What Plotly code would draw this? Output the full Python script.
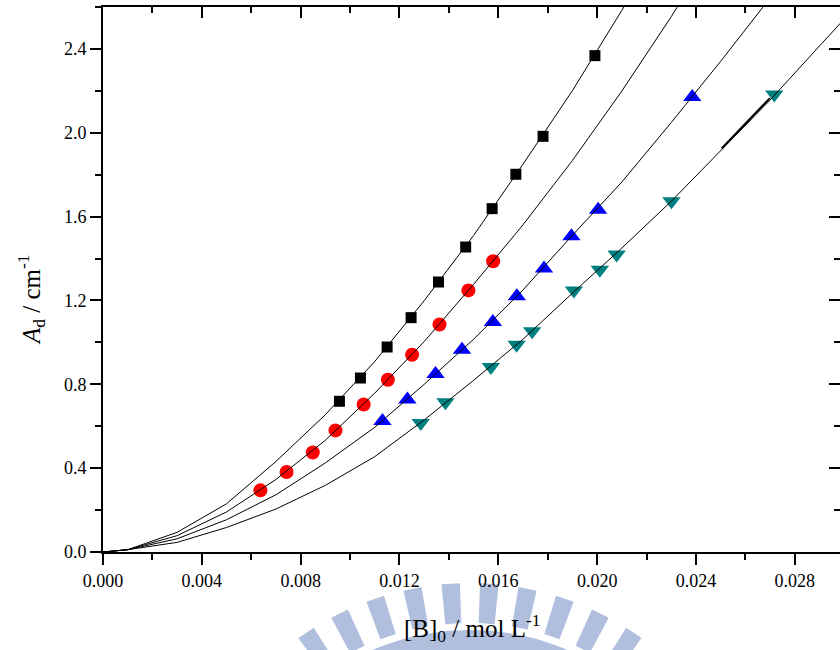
import numpy as np
import plotly.graph_objects as go

# ---------------- data ----------------
sq_x = [0.00957, 0.01042, 0.01150, 0.01247, 0.01358, 0.01468, 0.01575, 0.01671, 0.01781, 0.01991]
sq_y = [0.719, 0.830, 0.978, 1.118, 1.288, 1.455, 1.638, 1.802, 1.983, 2.368]

ci_x = [0.00637, 0.00743, 0.00849, 0.00941, 0.01055, 0.01153, 0.01251, 0.01362, 0.01479, 0.01579]
ci_y = [0.294, 0.382, 0.475, 0.580, 0.704, 0.822, 0.941, 1.085, 1.248, 1.387]

tu_x = [0.01131, 0.01232, 0.01346, 0.01453, 0.01578, 0.01675, 0.01785, 0.01896, 0.02004, 0.02385]
tu_y = [0.625, 0.727, 0.849, 0.965, 1.097, 1.220, 1.352, 1.506, 1.633, 2.171]

td_x = [0.01286, 0.01386, 0.01570, 0.01674, 0.01737, 0.01906, 0.02011, 0.02079, 0.02301, 0.02717]
td_y = [0.616, 0.714, 0.883, 0.989, 1.053, 1.247, 1.347, 1.419, 1.673, 2.182]

fit_x = [0, 0.001, 0.003, 0.005, 0.007, 0.009, 0.011, 0.013, 0.015, 0.017,
         0.019, 0.021, 0.023, 0.025, 0.027, 0.029, 0.031]
fit1_y = [0, 0.011, 0.094, 0.230, 0.432, 0.655, 0.909, 1.199, 1.510, 1.850, 2.201, 2.584, 2.990]
fit2_y = [0, 0.011, 0.078, 0.191, 0.346, 0.533, 0.758, 1.004, 1.277, 1.561, 1.868, 2.199, 2.554, 2.930]
fit3_y = [0, 0.011, 0.063, 0.154, 0.273, 0.425, 0.595, 0.800, 1.015, 1.250, 1.511, 1.765, 2.049, 2.341, 2.643]
fit4_y = [0, 0.011, 0.046, 0.117, 0.205, 0.318, 0.455, 0.630, 0.819, 1.015, 1.235, 1.450, 1.673, 1.913,
          2.156, 2.414, 2.670]

seg_x = [0.02504, 0.02699]
seg_y = [1.925, 2.165]

x_ticks = [0.000, 0.004, 0.008, 0.012, 0.016, 0.020, 0.024, 0.028]
y_ticks = [0.0, 0.4, 0.8, 1.2, 1.6, 2.0, 2.4]

x_title = "[B]<sub>0</sub> / mol L<sup>-1</sup>"
y_title = "<i>A</i><sub>d</sub> / cm<sup>-1</sup>"

# ---------------- figure ----------------
W, H = 840, 650
ML, MR, MT, MB = 103, 0, 7, 98
XR = [0, 0.02983]
YR = [0, 2.6]
pw = W - ML - MR
ph = H - MT - MB


def to_paper(px, py):
    return (px - ML) / pw, (H - MB - py) / ph


fig = go.Figure()

fig.add_trace(go.Scatter(x=sq_x, y=sq_y, mode="markers",
                         marker=dict(symbol="square", size=11, color="#000000")))
fig.add_trace(go.Scatter(x=ci_x, y=ci_y, mode="markers",
                         marker=dict(symbol="circle", size=14, color="#ff0000")))
fig.add_trace(go.Scatter(x=tu_x, y=tu_y, mode="markers",
                         marker=dict(symbol="triangle-up", size=16, color="#0000ff")))
fig.add_trace(go.Scatter(x=td_x, y=td_y, mode="markers",
                         marker=dict(symbol="triangle-down", size=16, color="#008080")))

for fy in (fit1_y, fit2_y, fit3_y, fit4_y):
    fig.add_trace(go.Scatter(x=fit_x[:len(fy)], y=fy, mode="lines",
                             line=dict(color="black", width=1)))
fig.add_trace(go.Scatter(x=seg_x, y=seg_y, mode="lines", line=dict(color="black", width=2)))

# invisible trace to activate mirror axes (top / right)
fig.add_trace(go.Scatter(x=[0], y=[0], xaxis="x2", yaxis="y2", mode="markers",
                         marker=dict(opacity=0), hoverinfo="skip"))

# ---------------- watermark (decorative logo, top part visible) ----------------
cx, cy = 470.0, 878.0
shapes = []
wm_col = "#b1bfdf"


def path_of(points):
    pp = [to_paper(*p) for p in points]
    return "M " + " L ".join(f"{p[0]:.4f},{p[1]:.4f}" for p in pp) + " Z"


r0, r1, half = 255.0, 295.0, np.radians(1.8)
for ang in np.arange(-48.75, 48.8, 7.5):
    a = np.radians(ang)
    pts = []
    for r, da in ((r0, -half), (r1, -half), (r1, half), (r0, half)):
        pts.append((cx + r * np.sin(a + da), cy - r * np.cos(a + da)))
    shapes.append(dict(type="path", path=path_of(pts), xref="paper", yref="paper",
                       fillcolor=wm_col, line=dict(width=0), layer="below"))

b0, b1 = 222.0, 248.0
angs = np.radians(np.linspace(-60, 60, 61))
band = [(cx + b1 * np.sin(a), cy - b1 * np.cos(a)) for a in angs] + \
       [(cx + b0 * np.sin(a), cy - b0 * np.cos(a)) for a in angs[::-1]]
shapes.append(dict(type="path", path=path_of(band), xref="paper", yref="paper",
                   fillcolor=wm_col, line=dict(width=0), layer="below"))

xt_x, xt_y = to_paper(472, 628)
yt_x, yt_y = to_paper(31, 300)

fig.update_layout(
    width=W, height=H, autosize=False,
    margin=dict(l=ML, r=MR, t=MT, b=MB, pad=0),
    paper_bgcolor="white", plot_bgcolor="rgba(0,0,0,0)",
    showlegend=False,
    font=dict(family="Liberation Serif", color="black", size=18),
    shapes=shapes,
    annotations=[
        dict(text=x_title, x=xt_x, y=xt_y, xref="paper", yref="paper", showarrow=False,
             xanchor="center", yanchor="middle", font=dict(size=25)),
        dict(text=y_title, x=yt_x, y=yt_y, xref="paper", yref="paper", showarrow=False,
             xanchor="center", yanchor="middle", textangle=-90, font=dict(size=25)),
    ],
    xaxis=dict(range=XR, tickvals=x_ticks, ticktext=[f"{v:.3f}" for v in x_ticks],
               ticks="outside", ticklen=11, tickwidth=2, tickcolor="black",
               minor=dict(ticks="outside", ticklen=6, tickwidth=2, dtick=0.002, tick0=0,
                          tickcolor="black"),
               showline=True, linewidth=2, linecolor="black", showgrid=False, zeroline=False,
               tickfont=dict(size=18)),
    yaxis=dict(range=YR, tickvals=y_ticks, ticktext=[f"{v:.1f}" for v in y_ticks],
               ticks="outside", ticklen=11, tickwidth=2, tickcolor="black",
               minor=dict(ticks="outside", ticklen=6, tickwidth=2, dtick=0.2, tick0=0,
                          tickcolor="black"),
               showline=True, linewidth=2, linecolor="black", showgrid=False, zeroline=False,
               tickfont=dict(size=18)),
    xaxis2=dict(range=XR, overlaying="x", side="top", anchor="y",
                tickvals=x_ticks, showticklabels=False,
                ticks="inside", ticklen=11, tickwidth=2, tickcolor="black",
                minor=dict(ticks="inside", ticklen=6, tickwidth=2, dtick=0.002, tick0=0,
                           tickcolor="black"),
                showline=True, linewidth=2, linecolor="black", showgrid=False, zeroline=False),
    yaxis2=dict(range=YR, overlaying="y", side="right", anchor="x",
                tickvals=y_ticks, showticklabels=False,
                ticks="inside", ticklen=11, tickwidth=2, tickcolor="black",
                minor=dict(ticks="inside", ticklen=6, tickwidth=2, dtick=0.2, tick0=0,
                           tickcolor="black"),
                showline=False, showgrid=False, zeroline=False),
)

fig.write_html("out.html")
